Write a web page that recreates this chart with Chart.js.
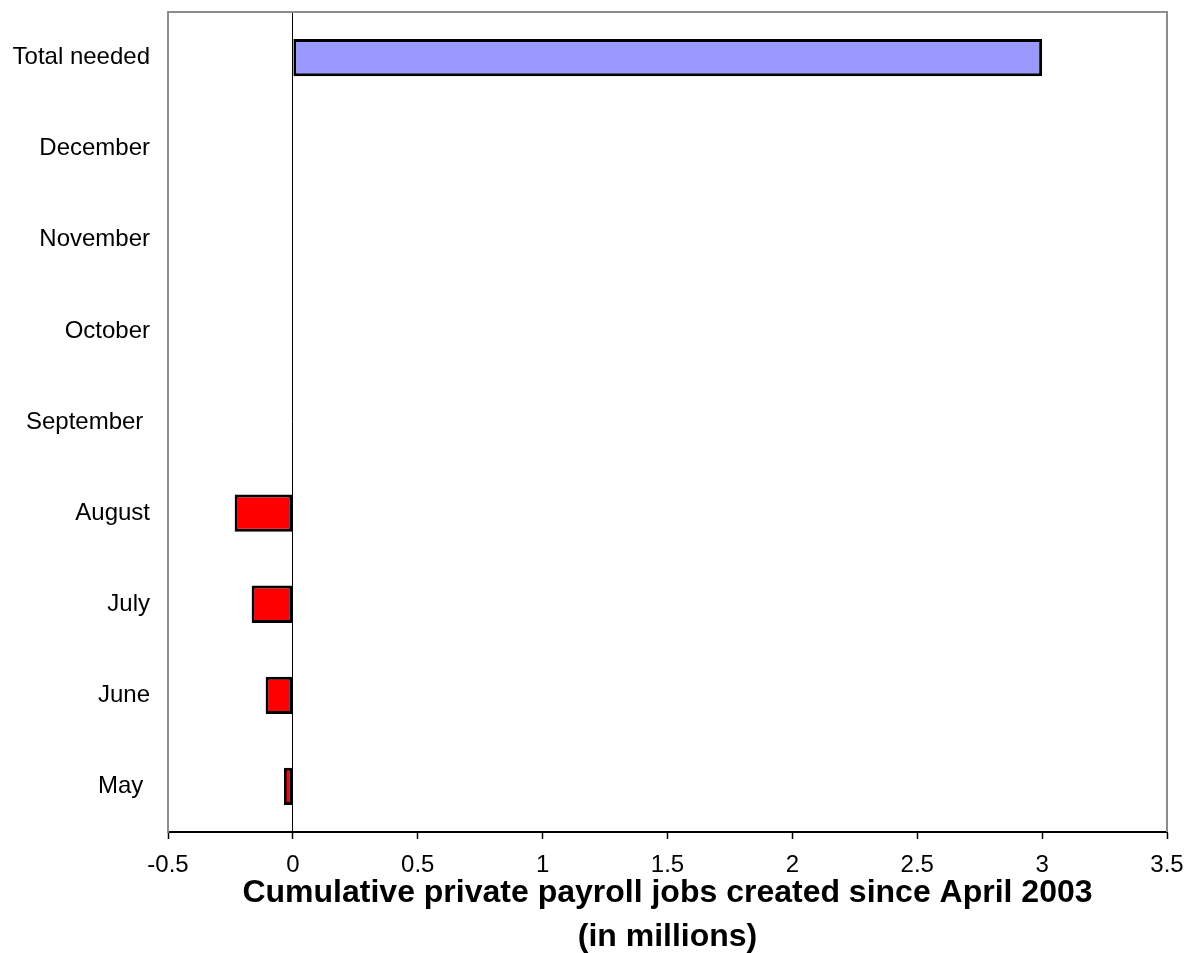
<!DOCTYPE html>
<html>
<head>
<meta charset="utf-8">
<script src="https://cdn.jsdelivr.net/npm/chart.js@4/dist/chart.umd.min.js"></script>
<style>
  body { margin: 0; background: #fff; }
  canvas { display: block; }
</style>
</head>
<body>
<canvas id="myChart" width="1187" height="953"></canvas>
<script>
// categories in chronological order, drawn bottom-up (y axis reversed)
const categories = ["May ", "June", "July", "August", "September ", "October", "November", "December", "Total needed"];
// cumulative jobs in millions (no data yet for Sept-Dec)
const jobValues = [-0.036, -0.109, -0.165, -0.233, null, null, null, null, 3.0];
const xTickMin = -0.5;
const xTickMax = 3.5;
const xTickStep = 0.5;
const axisTitle = ["Cumulative private payroll jobs created since April 2003", "(in millions)"];

const fontFamily = "'Liberation Sans', Arial, sans-serif";

const barColors = categories.map((c) => (c === "Total needed" ? "#9999ff" : "#ff0000"));

// gray frame on the top and right of the plot area
const frameBorder = {
  id: "frameBorder",
  afterDatasetsDraw(chart) {
    const { ctx, chartArea } = chart;
    ctx.save();
    ctx.strokeStyle = "#8c8c8c";
    ctx.lineWidth = 2;
    ctx.beginPath();
    ctx.moveTo(chartArea.left, chartArea.top);
    ctx.lineTo(chartArea.right, chartArea.top);
    ctx.lineTo(chartArea.right, chartArea.bottom);
    ctx.stroke();
    ctx.restore();
  },
};

const elementChart = document.querySelector("#myChart");

const data = {
  labels: categories,
  datasets: [
    {
      label: "Jobs",
      data: jobValues,
      backgroundColor: barColors,
      borderColor: "#000",
      borderWidth: 3,
      borderSkipped: false,
      barPercentage: 0.41,
      categoryPercentage: 1,
    },
  ],
};

const configChart = {
  type: "bar",
  data: data,
  options: {
    indexAxis: "y",
    responsive: false,
    animation: false,
    devicePixelRatio: 1,
    layout: { padding: { top: 12, right: 20, bottom: 0, left: 0 } },
    plugins: {
      legend: { display: false },
      tooltip: { enabled: false },
    },
    scales: {
      x: {
        type: "linear",
        min: xTickMin,
        max: xTickMax,
        ticks: {
          stepSize: xTickStep,
          color: "#000",
          padding: 12,
          font: { family: fontFamily, size: 24 },
          callback: (v) => String(v),
        },
        grid: {
          color: (ctx) => (ctx.tick && ctx.tick.value === 0 ? "#000" : "transparent"),
          lineWidth: 1,
          tickColor: "#000",
          tickLength: 7,
          tickWidth: 1.5,
        },
        border: { color: "#000", width: 2 },
        title: {
          display: true,
          text: axisTitle,
          color: "#000",
          font: { family: fontFamily, size: 32, weight: "bold", lineHeight: 1.375 },
          padding: { top: 0, bottom: -6 },
        },
        afterFit: (scale) => {
          scale.height = 121;
          scale.paddingLeft = 0;
          scale.paddingRight = 0;
        },
      },
      y: {
        reverse: true,
        ticks: {
          color: "#000",
          padding: 18,
          font: { family: fontFamily, size: 24 },
        },
        grid: { display: false, drawTicks: false },
        border: { color: "#8c8c8c", width: 2 },
        afterFit: (scale) => {
          scale.width = 168;
          scale.paddingTop = 0;
          scale.paddingBottom = 0;
        },
      },
    },
  },
  plugins: [frameBorder],
};

const myChart = new Chart(elementChart, configChart);
</script>
</body>
</html>
